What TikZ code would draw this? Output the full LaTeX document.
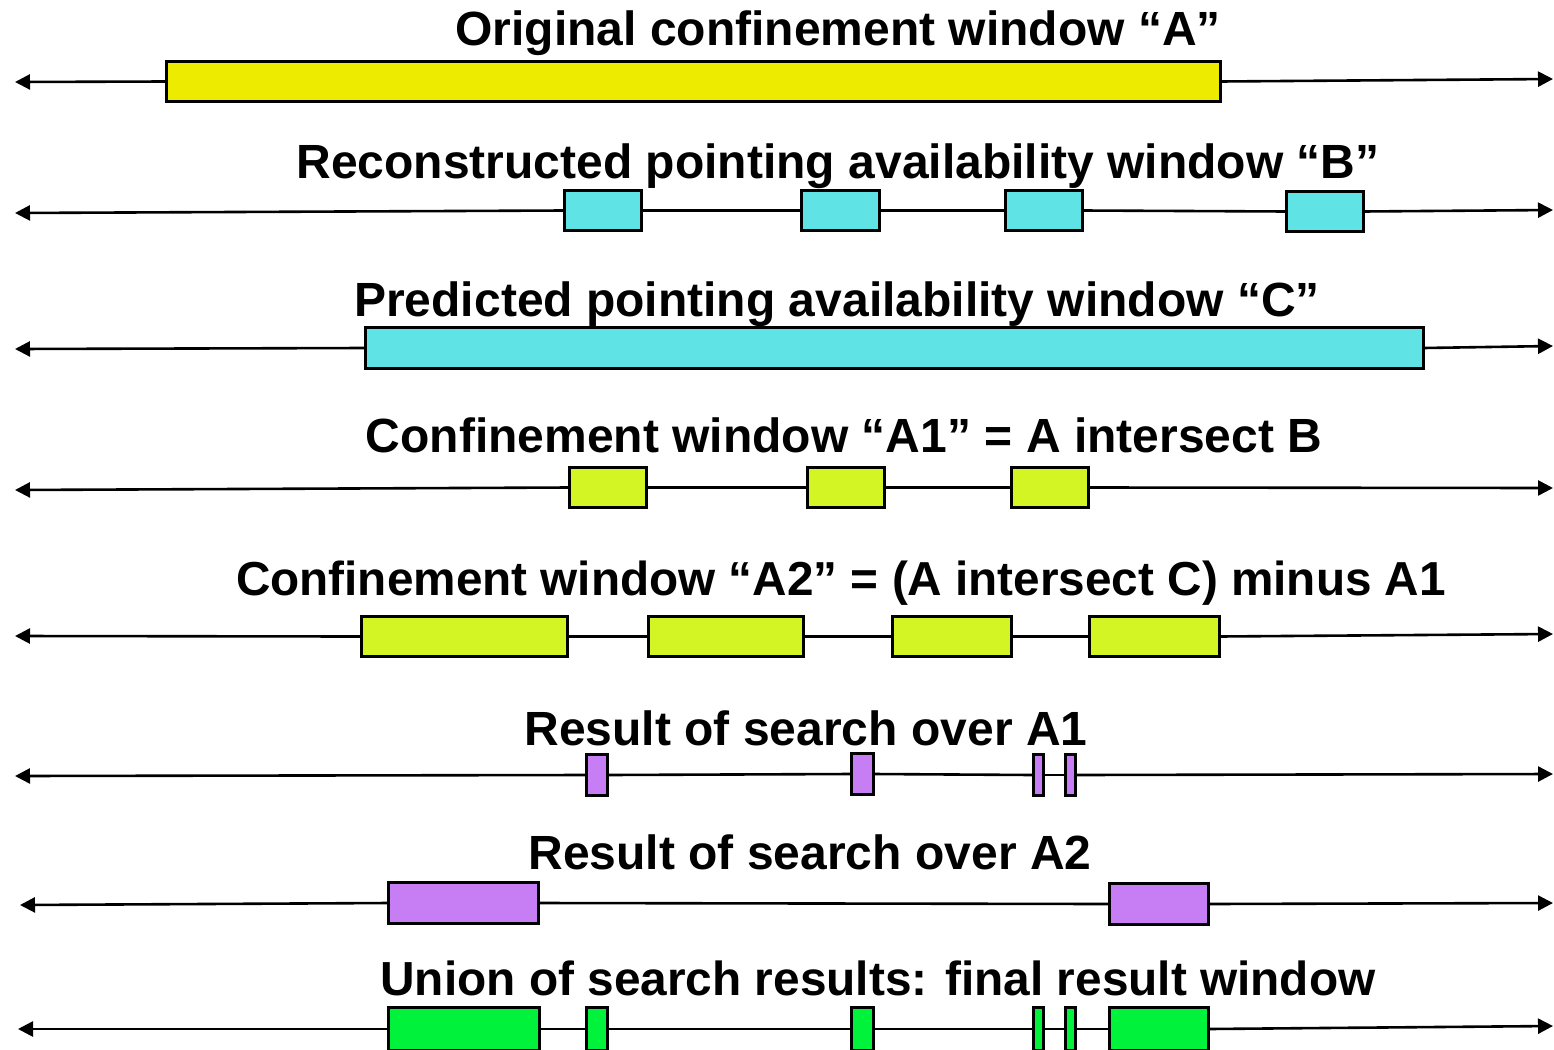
\documentclass[tikz,border=0pt]{standalone}
\usepackage{fontspec}
\setmainfont{Liberation Sans}
\usetikzlibrary{arrows.meta}
\definecolor{cA}{HTML}{EDEB00}
\definecolor{cB}{HTML}{5FE3E4}
\definecolor{cL}{HTML}{D2F523}
\definecolor{cP}{HTML}{C77EF5}
\definecolor{cG}{HTML}{00F23A}
\tikzset{
  win/.style={draw=black, line width=2.8pt, inner sep=0pt, outer sep=0pt},
  ttl/.style={font=\bfseries\fontsize{48}{56}\selectfont, anchor=base, inner sep=0pt},
  tl/.style={line width=2.6pt, -{Triangle[length=15pt,width=15pt]}},
  seg/.style={line width=2.6pt}
}
\newcommand\wbox[6]{%
  \node[win, fill=#6, minimum width={(#3-#2-2.8)*1pt}, minimum height={(#5-#4-2.8)*1pt}]
    (#1) at ({(#2+#3)/2},{(#4+#5)/2}) {};}
\begin{document}
\begin{tikzpicture}[x=1pt,y=-1pt]
\useasboundingbox (0,0) rectangle (1554,1049);
\fill[white] (0,0) rectangle (1554,1049);

% Row 1
\node[ttl] (t1) at (838,46) {Original confinement window “A”};
\coordinate (L1) at (15,82); \coordinate (R1) at (1553,79);
\wbox{a1}{165}{1222}{60}{103}{cA}
\draw[tl] (a1.west) -- (L1);
\draw[tl] (a1.east) -- (R1);

% Row 2
\node[ttl] (t2) at (838,178) {Reconstructed pointing availability window “B”};
\coordinate (L2) at (15,213); \coordinate (R2) at (1553,210);
\wbox{b1}{563}{643}{189}{232}{cB}
\wbox{b2}{800}{881}{189}{232}{cB}
\wbox{b3}{1004}{1084}{189}{232}{cB}
\wbox{b4}{1285}{1365}{190}{233}{cB}
\draw[tl] (b1.west) -- (L2);
\draw[seg] (b1.east) -- (b2.west);
\draw[seg] (b2.east) -- (b3.west);
\draw[seg] (b3.east) -- (b4.west);
\draw[tl] (b4.east) -- (R2);

% Row 3
\node[ttl] (t3) at (837,316) {Predicted pointing availability window “C”};
\coordinate (L3) at (15,349); \coordinate (R3) at (1553,346);
\wbox{c1}{364}{1425}{326}{370}{cB}
\draw[tl] (c1.west) -- (L3);
\draw[tl] (c1.east) -- (R3);

% Row 4
\node[ttl] (t4) at (844,452) {Confinement window “A1” = A intersect B};
\coordinate (L4) at (15,490); \coordinate (R4) at (1553,488);
\wbox{d1}{568}{648}{466}{509}{cL}
\wbox{d2}{806}{886}{466}{509}{cL}
\wbox{d3}{1010}{1090}{466}{509}{cL}
\draw[tl] (d1.west) -- (L4);
\draw[seg] (d1.east) -- (d2.west);
\draw[seg] (d2.east) -- (d3.west);
\draw[tl] (d3.east) -- (R4);

% Row 5
\node[ttl, font=\bfseries\fontsize{47.7}{56}\selectfont] (t5) at (841,595) {Confinement window “A2” = (A intersect C) minus A1};
\coordinate (L5) at (15,636); \coordinate (R5) at (1553,634);
\wbox{e1}{360}{569}{615}{658}{cL}
\wbox{e2}{647}{805}{615}{658}{cL}
\wbox{e3}{891}{1013}{615}{658}{cL}
\wbox{e4}{1088}{1221}{615}{658}{cL}
\draw[tl] (e1.west) -- (L5);
\draw[seg] (e1.east) -- (e2.west);
\draw[seg] (e2.east) -- (e3.west);
\draw[seg] (e3.east) -- (e4.west);
\draw[tl] (e4.east) -- (R5);

% Row 6
\node[ttl] (t6) at (806,745) {Result of search over A1};
\coordinate (L6) at (15,776); \coordinate (R6) at (1553,774);
\wbox{f1}{585}{609}{753}{797}{cP}
\wbox{f2}{850}{875}{752}{796}{cP}
\wbox{f3}{1032}{1045}{753}{797}{cP}
\wbox{f4}{1064}{1077}{753}{797}{cP}
\draw[tl] (f1.west) -- (L6);
\draw[seg] (f1.east) -- (f2.west);
\draw[seg] (f2.east) -- (f3.west);
\draw[seg] (f3.east) -- (f4.west);
\draw[tl] (f4.east) -- (R6);

% Row 7
\node[ttl] (t7) at (810,869) {Result of search over A2};
\coordinate (L7) at (20,905); \coordinate (R7) at (1553,903);
\wbox{g1}{387}{540}{881}{925}{cP}
\wbox{g2}{1108}{1210}{882}{926}{cP}
\draw[tl] (g1.west) -- (L7);
\draw[seg] (g1.east) -- (g2.west);
\draw[tl] (g2.east) -- (R7);

% Row 8
\node[ttl, font=\bfseries\fontsize{47.8}{56}\selectfont] (t8) at (878,995) {Union of search results: final result window};
\coordinate (L8) at (18,1029); \coordinate (R8) at (1553,1026);
\wbox{h1}{387}{541}{1006}{1052}{cG}
\wbox{h2}{585}{609}{1006}{1052}{cG}
\wbox{h3}{850}{875}{1006}{1052}{cG}
\wbox{h4}{1032}{1045}{1006}{1052}{cG}
\wbox{h5}{1064}{1077}{1006}{1052}{cG}
\wbox{h6}{1108}{1210}{1006}{1052}{cG}
\draw[tl] (h1.west) -- (L8);
\draw[seg] (h1.east) -- (h2.west);
\draw[seg] (h2.east) -- (h3.west);
\draw[seg] (h3.east) -- (h4.west);
\draw[seg] (h4.east) -- (h5.west);
\draw[seg] (h5.east) -- (h6.west);
\draw[tl] (h6.east) -- (R8);
\end{tikzpicture}
\end{document}
